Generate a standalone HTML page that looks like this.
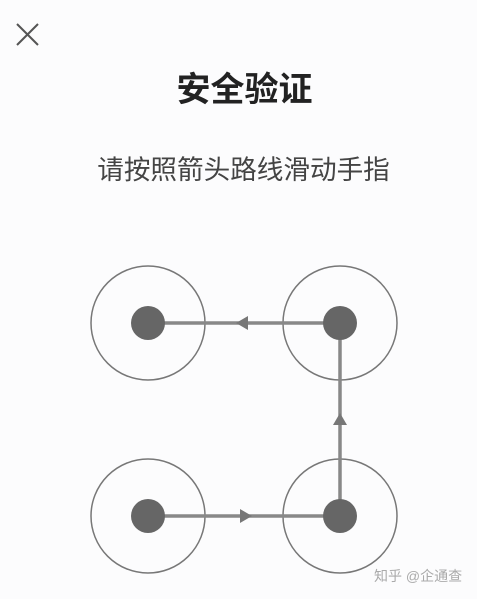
<!DOCTYPE html>
<html><head><meta charset="utf-8"><style>
body{margin:0;width:477px;height:599px;background:#fcfcfd;overflow:hidden;position:relative;font-family:"Liberation Sans","Noto Sans CJK SC",sans-serif}
.t{position:absolute;left:0;width:489px;text-align:center;top:68px;font-size:34px;font-weight:bold;color:#222;line-height:44px}
.s{position:absolute;left:0;width:487px;text-align:center;top:153px;font-size:26.6px;color:#444;line-height:34px}
.w{position:absolute;left:374px;top:566px;font-size:14px;color:#aaa}
</style></head><body>
<svg width="477" height="599" style="position:absolute;left:0;top:0">
<g stroke="#555" stroke-width="2"><line x1="17" y1="24" x2="38" y2="45"/><line x1="38" y1="24" x2="17" y2="45"/></g>
<g fill="none" stroke="#777" stroke-width="1.5">
<circle cx="148" cy="323" r="57"/><circle cx="340" cy="323" r="57"/>
<circle cx="148" cy="516" r="57"/><circle cx="340" cy="516" r="57"/></g>
<g stroke="#888" stroke-width="3.5"><line x1="148" y1="323" x2="340" y2="323"/><line x1="340" y1="323" x2="340" y2="516"/><line x1="148" y1="516" x2="340" y2="516"/></g>
<g fill="#777"><polygon points="236,323 248,316 248,330"/><polygon points="252,516 240,509 240,523"/><polygon points="340,413 333,425 347,425"/></g>
<g fill="#666"><circle cx="148" cy="323" r="17"/><circle cx="340" cy="323" r="17"/><circle cx="148" cy="516" r="17"/><circle cx="340" cy="516" r="17"/></g>
</svg>
<div class="t">安全验证</div>
<div class="s">请按照箭头路线滑动手指</div>
<div class="w">知乎 @企通查</div>
</body></html>
